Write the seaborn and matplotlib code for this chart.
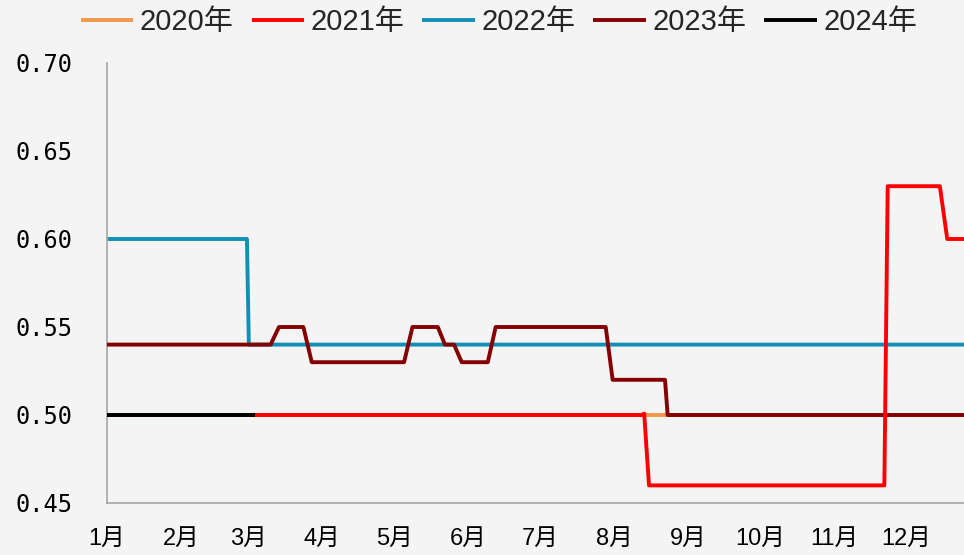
import matplotlib
matplotlib.use("Agg")
import matplotlib.pyplot as plt
import pandas as pd
import seaborn as sns

# ─── Data (day of year, 0 = Jan 1) ───
days_2020 = [0, 364]
vals_2020 = [0.50, 0.50]

days_2021 = [0, 223.5, 224.6, 226.6, 325.0, 326.4, 348.2, 351.3, 364]
vals_2021 = [0.50, 0.50, 0.5008, 0.46, 0.46, 0.63, 0.63, 0.60, 0.60]

days_2022 = [0, 58.5, 59.3, 364]
vals_2022 = [0.60, 0.60, 0.54, 0.54]

days_2023 = [0, 68.4, 71.9, 82.1, 85.6, 124.2, 127.7, 138.3, 141.3, 145.1,
             148.3, 159.2, 162.5, 208.5, 211.4, 233.3, 234.4, 364]
vals_2023 = [0.54, 0.54, 0.55, 0.55, 0.53, 0.53, 0.55, 0.55, 0.54, 0.54,
             0.53, 0.53, 0.55, 0.55, 0.52, 0.52, 0.50, 0.50]

days_2024 = [0, 62]
vals_2024 = [0.50, 0.50]

month_starts = [0, 31, 59, 90, 120, 151, 181, 212, 243, 273, 304, 334]
month_labels = [f"{m}月" for m in range(1, 13)]
y_ticks = [0.45, 0.50, 0.55, 0.60, 0.65, 0.70]

# ─── Style ───
BG = "#F4F4F4"
sns.set_theme(style="white", rc={"axes.facecolor": BG, "figure.facecolor": BG})
plt.rcParams["font.family"] = ["Liberation Sans", "Noto Sans CJK SC", "DejaVu Sans"]

series = [
    ("2020年", days_2020, vals_2020, "#F0994A", 1),
    ("2021年", days_2021, vals_2021, "#FF0000", 4),
    ("2022年", days_2022, vals_2022, "#128FB6", 2),
    ("2023年", days_2023, vals_2023, "#850000", 3),
    ("2024年", days_2024, vals_2024, "#000000", 5),
]

fig = plt.figure(figsize=(9.64, 5.55), dpi=100)
ax = fig.add_axes([107 / 964, 52 / 555, 1 - 107 / 964, 440 / 555])

for name, d, v, color, z in series:
    df = pd.DataFrame({"day": d, "value": v})
    sns.lineplot(data=df, x="day", y="value", ax=ax, color=color, lw=2.8,
                 label=name, zorder=z, estimator=None, sort=False,
                 solid_joinstyle="round", solid_capstyle="butt")

ax.set_xlim(0, 358.3)
ax.set_ylim(0.45, 0.70)
ax.set_xticks(month_starts)
ax.set_xticklabels(month_labels, fontsize=17)
ax.set_yticks(y_ticks)
ax.set_yticklabels([f"{t:.2f}" for t in y_ticks], family="DejaVu Sans Mono", fontsize=17)
ax.set_xlabel("")
ax.set_ylabel("")

for side in ["top", "right"]:
    ax.spines[side].set_visible(False)
for side in ["left", "bottom"]:
    ax.spines[side].set_color("#A6A6A6")
    ax.spines[side].set_linewidth(1.2)
ax.tick_params(axis="x", direction="out", length=6, width=1.2, color="#A6A6A6",
               labelcolor="black", pad=12)
ax.tick_params(axis="y", direction="out", length=6, width=1.2, color="#A6A6A6",
               labelcolor="black", pad=19)

ax.legend_.remove()
handles, labels = ax.get_legend_handles_labels()
fig.legend(handles, labels, loc="center", bbox_to_anchor=(499 / 964, 1 - 22 / 555),
           ncol=5, frameon=False, fontsize=21, handlelength=1.8,
           handletextpad=0.22, columnspacing=0.62)

plt.savefig("out.png", dpi=100, facecolor=BG)
plt.close()
